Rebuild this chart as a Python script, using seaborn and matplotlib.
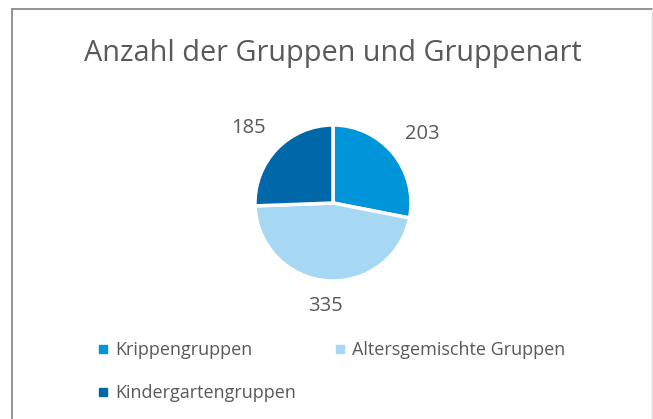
import matplotlib
matplotlib.use("Agg")
import matplotlib.pyplot as plt
from matplotlib.lines import Line2D
import seaborn as sns

# data
categories = ["Krippengruppen", "Altersgemischte Gruppen", "Kindergartengruppen"]
counts = [203, 335, 185]
colors = ["#0095D9", "#A6D8F4", "#0068A9"]

sns.set_theme(style="white")
plt.rcParams["font.family"] = ["Open Sans", "DejaVu Sans"]
text_color = "#595959"

W, H = 653, 419
fig = plt.figure(figsize=(W / 100, H / 100), dpi=100)
fig.patch.set_facecolor("white")

# chart border (left / top darker, right faint)
fig.add_artist(Line2D([12 / W, 12 / W], [0, 1 - 9 / H], color="#8a8a8a", lw=1.3))
fig.add_artist(Line2D([12 / W, 652 / W], [1 - 9 / H, 1 - 9 / H], color="#8a8a8a", lw=1.3))
fig.add_artist(Line2D([651.5 / W, 651.5 / W], [0, 1 - 9 / H], color="#d9d9d9", lw=1))

# pie
cx, cy, r = 333, 203, 78
ax = fig.add_axes([(cx - r) / W, (H - cy - r) / H, 2 * r / W, 2 * r / H])
wedges, texts = ax.pie(
    counts, colors=colors, startangle=90, counterclock=False,
    labels=[str(c) for c in counts], labeldistance=1.2,
    wedgeprops=dict(edgecolor="white", linewidth=2.5),
    textprops=dict(color=text_color, fontsize=14.5),
)
for t in texts:
    x, y = t.get_position()
    t.set_ha("left" if x > 0.3 else ("right" if x < -0.3 else "center"))
    t.set_va("bottom" if y > 0 else "top")
ax.set_xlim(-1, 1)
ax.set_ylim(-1, 1)
ax.set_aspect("auto")
ax.axis("off")

fig.text(333 / W, 1 - 53 / H, "Anzahl der Gruppen und Gruppenart",
         ha="center", va="center", fontsize=20.8, color=text_color)

# legend, row-wise order like the original
handles = [Line2D([], [], marker="s", ls="", color=c, markersize=5.5) for c in colors]
order = [0, 2, 1]
leg = fig.legend([handles[i] for i in order], [categories[i] for i in order],
                 loc="upper left", bbox_to_anchor=(97 / W, 1 - 341 / H),
                 ncol=2, frameon=False, fontsize=13, handlelength=0.7,
                 handletextpad=0.3, columnspacing=2.1, labelspacing=1.4,
                 borderpad=0, borderaxespad=0)
for t in leg.get_texts():
    t.set_color(text_color)

fig.savefig("out.png", dpi=100)
